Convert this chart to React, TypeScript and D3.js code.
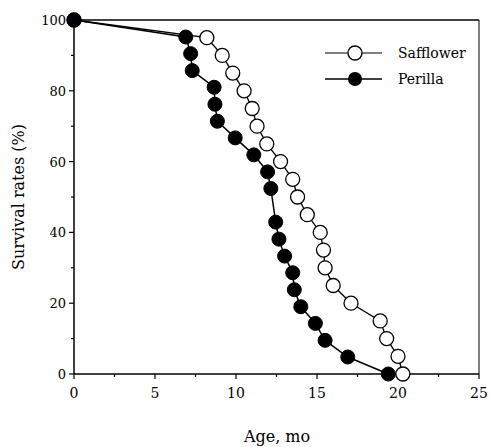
import React from "react";
import * as d3 from "d3";

const saffAge = [0, 8.2, 9.15, 9.8, 10.5, 11.0, 11.3, 11.9, 12.75, 13.5, 13.8, 14.4, 15.2, 15.4, 15.5, 16.0, 17.1, 18.9, 19.3, 20.0, 20.3];
const saffSurv = [100, 95, 90, 85, 80, 75, 70, 65, 60, 55, 50, 45, 40, 35, 30, 25, 20, 15, 10, 5, 0];
const periAge = [0, 6.9, 7.2, 7.3, 8.65, 8.7, 8.85, 9.95, 11.1, 11.95, 12.15, 12.45, 12.65, 13.0, 13.5, 13.6, 14.0, 14.9, 15.5, 16.9, 19.4];
const periSurv = [100, 95.2, 90.5, 85.7, 81.0, 76.2, 71.4, 66.7, 61.9, 57.1, 52.4, 42.9, 38.1, 33.3, 28.6, 23.8, 19.0, 14.3, 9.5, 4.8, 0];
const xTicks = [0, 5, 10, 15, 20, 25];
const xMinor = [2.5, 7.5, 12.5, 17.5, 22.5];
const yTicks = [0, 20, 40, 60, 80, 100];
const yMinor = [10, 30, 50, 70, 90];
const seriesNames = ["Safflower", "Perilla"];

export default function App() {
  const W = 489, H = 447;
  const x = d3.scaleLinear().domain([0, 25]).range([74, 479]);
  const y = d3.scaleLinear().domain([0, 100]).range([374, 20]);
  const ts: React.CSSProperties = { fontFamily: "'DejaVu Serif', 'Liberation Serif', serif" };
  const line = d3.line<[number, number]>().x(d => x(d[0])).y(d => y(d[1]));
  const saff: [number, number][] = saffAge.map((a, i) => [a, saffSurv[i]]);
  const peri: [number, number][] = periAge.map((a, i) => [a, periSurv[i]]);
  const r = 7;
  return (
    <svg width={W} height={H} style={{ position: "absolute", left: 0, top: 0, background: "#fff" }}>
      <rect x={0} y={0} width={W} height={H} fill="#fff" />
      <line x1={x(0)} y1={y(100)} x2={x(25)} y2={y(100)} stroke="#000" strokeWidth={1.5} />
      <line x1={x(25)} y1={y(100)} x2={x(25)} y2={y(0)} stroke="#000" strokeWidth={1} />
      <line x1={x(0)} y1={y(0)} x2={x(25)} y2={y(0)} stroke="#000" strokeWidth={1.5} />
      <line x1={x(0)} y1={y(0)} x2={x(0)} y2={y(100)} stroke="#000" strokeWidth={1.5} />
      {xTicks.map(t => (
        <g key={"xt" + t}>
          <line x1={x(t)} x2={x(t)} y1={y(0)} y2={y(0) + 5} stroke="#000" strokeWidth={1.2} />
          <text x={x(t)} y={y(0) + 24} fontSize={14} textAnchor="middle" style={ts}>{t}</text>
        </g>
      ))}
      {xMinor.map(t => (
        <line key={"xm" + t} x1={x(t)} x2={x(t)} y1={y(0)} y2={y(0) + 3} stroke="#000" strokeWidth={1.2} />
      ))}
      {yTicks.map(t => (
        <g key={"yt" + t}>
          <line x1={x(0) - 5} x2={x(0)} y1={y(t)} y2={y(t)} stroke="#000" strokeWidth={1.2} />
          <text x={x(0) - 8} y={y(t) + 5} fontSize={13} textAnchor="end" style={ts}>{t}</text>
        </g>
      ))}
      {yMinor.map(t => (
        <line key={"ym" + t} x1={x(0) - 3} x2={x(0)} y1={y(t)} y2={y(t)} stroke="#000" strokeWidth={1.2} />
      ))}
      <path d={line(saff) || ""} fill="none" stroke="#000" strokeWidth={1.3} />
      <path d={line(peri) || ""} fill="none" stroke="#000" strokeWidth={1.5} />
      {saff.map((d, i) => (
        <circle key={"s" + i} cx={x(d[0])} cy={y(d[1])} r={r} fill="#fff" stroke="#000" strokeWidth={1.3} />
      ))}
      {peri.map((d, i) => (
        <circle key={"p" + i} cx={x(d[0])} cy={y(d[1])} r={r} fill="#000" stroke="#000" strokeWidth={1} />
      ))}
      <line x1={325} x2={382} y1={53} y2={53} stroke="#000" strokeWidth={1.2} />
      <circle cx={355} cy={53} r={r} fill="#fff" stroke="#000" strokeWidth={1.3} />
      <text x={398} y={58} fontSize={14} style={ts}>{seriesNames[0]}</text>
      <line x1={325} x2={382} y1={79} y2={79} stroke="#000" strokeWidth={1.5} />
      <circle cx={355} cy={79} r={r} fill="#000" />
      <text x={398} y={84} fontSize={14} style={ts}>{seriesNames[1]}</text>
      <text x={277} y={442} fontSize={16} textAnchor="middle" style={ts}>Age, mo</text>
      <text transform={`translate(24,${197}) rotate(-90)`} fontSize={16} textAnchor="middle" style={ts}>Survival rates (%)</text>
    </svg>
  );
}
